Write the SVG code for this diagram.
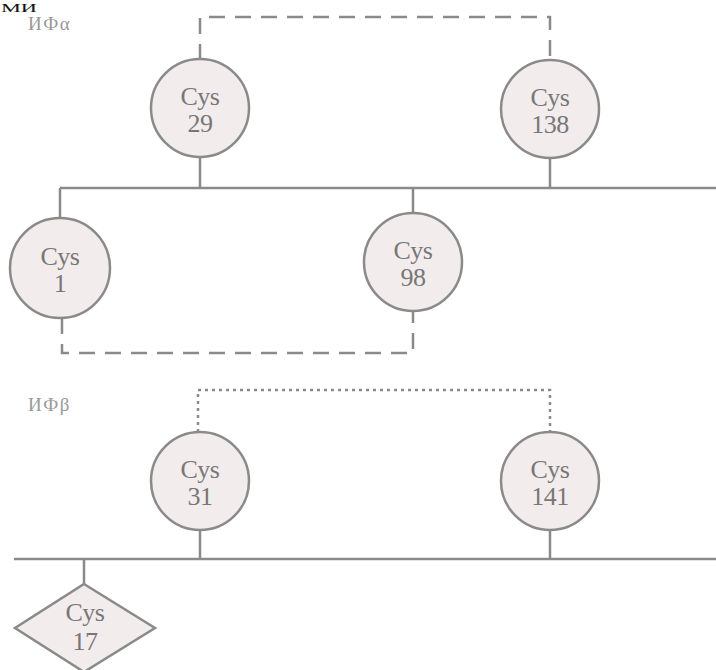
<svg xmlns="http://www.w3.org/2000/svg" width="716" height="670" viewBox="0 0 716 670">
<style>
.node{fill:#f3eced;stroke:#8a8a8a;stroke-width:2.5}
.line{fill:none;stroke:#8a8a8a;stroke-width:2.5}
.dash{fill:none;stroke:#8a8a8a;stroke-width:2.5;stroke-dasharray:16 10}
.dot{fill:none;stroke:#8a8a8a;stroke-width:2.5;stroke-dasharray:3 4}
.lbl{font-family:"Liberation Serif","DejaVu Serif",serif;font-size:26px;fill:#777;text-anchor:middle;letter-spacing:-0.5px}
.head{font-family:"Liberation Serif","DejaVu Serif",serif;font-size:19px;fill:#999;letter-spacing:1.5px}
</style>
<rect width="716" height="670" fill="#ffffff"/>
<text x="1" y="12" font-family="Liberation Serif, serif" font-size="12" fill="#111" textLength="36" lengthAdjust="spacingAndGlyphs">МИ</text>
<text class="head" x="28" y="30">ИФα</text>
<text class="head" x="28" y="411">ИФβ</text>
<g id="connectors">
<path class="line" d="M60 188H716"/>
<path class="line" d="M200 157V188"/>
<path class="line" d="M550 159V188"/>
<path class="line" d="M60 188V218"/>
<path class="line" d="M413 188V213"/>
<path class="dash" d="M200 60V17H550V60"/>
<path class="dash" d="M62 318V353H413V311"/>
<path class="line" d="M14 559H716"/>
<path class="line" d="M200 530V559"/>
<path class="line" d="M550 530V559"/>
<path class="line" d="M84 559V584"/>
<path class="dot" d="M198 432V390H550V432"/>
</g>
<g id="cys29"><circle class="node" cx="200" cy="108" r="49"/><text class="lbl" x="200" y="105">Cys</text><text class="lbl" x="200" y="132">29</text></g>
<g id="cys138"><circle class="node" cx="550" cy="109" r="49"/><text class="lbl" x="550" y="106">Cys</text><text class="lbl" x="550" y="133">138</text></g>
<g id="cys1"><circle class="node" cx="60" cy="268" r="50"/><text class="lbl" x="60" y="265">Cys</text><text class="lbl" x="60" y="292">1</text></g>
<g id="cys98"><circle class="node" cx="413" cy="262" r="49"/><text class="lbl" x="413" y="259">Cys</text><text class="lbl" x="413" y="286">98</text></g>
<g id="cys31"><circle class="node" cx="200" cy="481" r="49"/><text class="lbl" x="200" y="478">Cys</text><text class="lbl" x="200" y="505">31</text></g>
<g id="cys141"><circle class="node" cx="550" cy="481" r="49"/><text class="lbl" x="550" y="478">Cys</text><text class="lbl" x="550" y="505">141</text></g>
<g id="cys17"><polygon class="node" points="84,584 155,628 84,672 15,628"/><text class="lbl" x="85" y="621" font-size="25">Cys</text><text class="lbl" x="85" y="650" font-size="25">17</text></g>
</svg>
